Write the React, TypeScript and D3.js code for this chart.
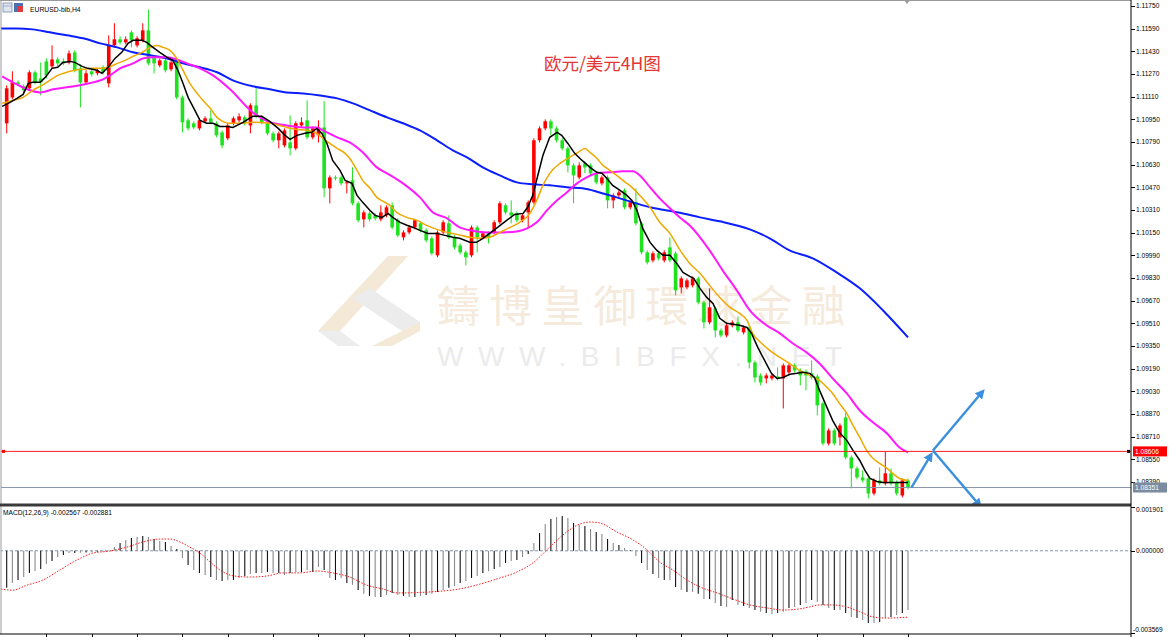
import React from "react";
import * as d3 from "d3";

// EURUSD H4 candles, oldest first
const opens = [
  1.10922, 1.11105, 1.11211, 1.11183, 1.11169, 1.11282, 1.11239, 1.11359, 1.11324, 1.11373,
  1.11359, 1.11352, 1.11423, 1.11310, 1.11211, 1.11289, 1.11275, 1.11317, 1.11204, 1.11472,
  1.11515, 1.11493, 1.11564, 1.11472, 1.11508, 1.11578, 1.11388, 1.11331, 1.11366, 1.11303,
  1.11366, 1.11105, 1.10943, 1.10922, 1.10886, 1.10936, 1.10957, 1.10922, 1.10858, 1.10816,
  1.10922, 1.10943, 1.10964, 1.10907, 1.11049, 1.10964, 1.10922, 1.10851, 1.10802, 1.10766,
  1.10787, 1.10745, 1.10907, 1.10943, 1.10823, 1.10837, 1.10893, 1.10463, 1.10540, 1.10540,
  1.10498, 1.10519, 1.10357, 1.10244, 1.10286, 1.10272, 1.10244, 1.10272, 1.10343, 1.10237,
  1.10117, 1.10152, 1.10187, 1.10216, 1.10166, 1.10110, 1.09990, 1.10152, 1.10216, 1.10117,
  1.10060, 1.10011, 1.09990, 1.10187, 1.10117, 1.10145, 1.10152, 1.10223, 1.10343, 1.10293,
  1.10286, 1.10237, 1.10293, 1.10364, 1.10802, 1.10886, 1.10936, 1.10886, 1.10802, 1.10745,
  1.10625, 1.10540, 1.10639, 1.10625, 1.10569, 1.10498, 1.10540, 1.10378, 1.10413, 1.10449,
  1.10329, 1.10364, 1.10216, 1.10011, 1.09954, 1.10004, 1.09954, 1.10046, 1.10004, 1.09764,
  1.09764, 1.09778, 1.09827, 1.09658, 1.09517, 1.09616, 1.09460, 1.09425, 1.09495, 1.09517,
  1.09446, 1.09481, 1.09234, 1.09142, 1.09121, 1.09121, 1.09135, 1.09121, 1.09164, 1.09213,
  1.09178, 1.09171, 1.09157, 1.09135, 1.08945, 1.08662, 1.08754, 1.08705, 1.08846, 1.08564,
  1.08486, 1.08422, 1.08415, 1.08309, 1.08401, 1.08380, 1.08451, 1.08387, 1.08295, 1.08401,
];
const highs = [
  1.11190, 1.11289, 1.11225, 1.11197, 1.11296, 1.11296, 1.11352, 1.11380, 1.11472, 1.11388,
  1.11380, 1.11437, 1.11437, 1.11338, 1.11296, 1.11303, 1.11310, 1.11331, 1.11543, 1.11628,
  1.11536, 1.11536, 1.11578, 1.11536, 1.11628, 1.11726, 1.11402, 1.11380, 1.11380, 1.11366,
  1.11380, 1.11119, 1.10957, 1.10936, 1.10957, 1.10971, 1.11013, 1.10936, 1.10872, 1.10922,
  1.10971, 1.10992, 1.10978, 1.11063, 1.11169, 1.10978, 1.10936, 1.10865, 1.10865, 1.10886,
  1.10978, 1.10936, 1.10964, 1.11084, 1.10900, 1.10943, 1.11077, 1.10554, 1.10554, 1.10554,
  1.10519, 1.10611, 1.10371, 1.10307, 1.10300, 1.10286, 1.10343, 1.10343, 1.10364, 1.10251,
  1.10166, 1.10201, 1.10244, 1.10230, 1.10180, 1.10124, 1.10166, 1.10237, 1.10272, 1.10131,
  1.10074, 1.10025, 1.10201, 1.10201, 1.10159, 1.10159, 1.10237, 1.10371, 1.10357, 1.10378,
  1.10300, 1.10286, 1.10378, 1.10816, 1.10900, 1.10950, 1.10950, 1.10900, 1.10816, 1.10759,
  1.10639, 1.10646, 1.10653, 1.10639, 1.10583, 1.10554, 1.10554, 1.10427, 1.10449, 1.10463,
  1.10378, 1.10463, 1.10230, 1.10025, 1.10018, 1.10018, 1.10025, 1.10117, 1.10018, 1.09841,
  1.09827, 1.09841, 1.09841, 1.09672, 1.09757, 1.09630, 1.09474, 1.09510, 1.09531, 1.09559,
  1.09495, 1.09495, 1.09248, 1.09157, 1.09157, 1.09157, 1.09199, 1.09227, 1.09227, 1.09227,
  1.09192, 1.09185, 1.09248, 1.09150, 1.08959, 1.08768, 1.08768, 1.08804, 1.08881, 1.08578,
  1.08500, 1.08472, 1.08429, 1.08415, 1.08493, 1.08606, 1.08486, 1.08401, 1.08415, 1.08415,
];
const lows = [
  1.10851, 1.11091, 1.11183, 1.11140, 1.11155, 1.11197, 1.11119, 1.11239, 1.11310, 1.11324,
  1.11331, 1.11338, 1.11282, 1.11035, 1.11197, 1.11253, 1.11260, 1.11268, 1.11176, 1.11458,
  1.11479, 1.11479, 1.11458, 1.11458, 1.11493, 1.11331, 1.11275, 1.11317, 1.11282, 1.11289,
  1.11091, 1.10858, 1.10872, 1.10879, 1.10872, 1.10922, 1.10915, 1.10823, 1.10745, 1.10802,
  1.10907, 1.10929, 1.10907, 1.10851, 1.10957, 1.10915, 1.10837, 1.10787, 1.10745, 1.10752,
  1.10696, 1.10731, 1.10893, 1.10809, 1.10809, 1.10787, 1.10399, 1.10357, 1.10519, 1.10484,
  1.10427, 1.10343, 1.10223, 1.10187, 1.10230, 1.10237, 1.10230, 1.10258, 1.10173, 1.10117,
  1.10096, 1.10138, 1.10173, 1.10152, 1.10081, 1.09990, 1.09976, 1.10138, 1.10103, 1.10032,
  1.09997, 1.09919, 1.09976, 1.10011, 1.10103, 1.10074, 1.10138, 1.10209, 1.10279, 1.10216,
  1.10223, 1.10223, 1.10180, 1.10350, 1.10787, 1.10872, 1.10837, 1.10787, 1.10731, 1.10576,
  1.10357, 1.10526, 1.10569, 1.10554, 1.10491, 1.10484, 1.10322, 1.10322, 1.10399, 1.10314,
  1.10314, 1.10201, 1.09997, 1.09926, 1.09940, 1.09954, 1.09940, 1.09940, 1.09707, 1.09721,
  1.09750, 1.09764, 1.09644, 1.09474, 1.09503, 1.09411, 1.09411, 1.09411, 1.09481, 1.09446,
  1.09432, 1.09192, 1.09093, 1.09072, 1.09086, 1.09107, 1.09107, 1.08909, 1.09150, 1.09164,
  1.09072, 1.09037, 1.09114, 1.08860, 1.08648, 1.08648, 1.08648, 1.08648, 1.08550, 1.08345,
  1.08408, 1.08387, 1.08274, 1.08295, 1.08366, 1.08366, 1.08366, 1.08295, 1.08281, 1.08338,
];
const closes = [
  1.11169, 1.11211, 1.11197, 1.11155, 1.11282, 1.11211, 1.11211, 1.11260, 1.11373, 1.11345,
  1.11345, 1.11416, 1.11296, 1.11211, 1.11275, 1.11268, 1.11296, 1.11282, 1.11472, 1.11515,
  1.11493, 1.11515, 1.11508, 1.11522, 1.11578, 1.11345, 1.11345, 1.11366, 1.11296, 1.11352,
  1.11105, 1.10929, 1.10886, 1.10893, 1.10943, 1.10957, 1.10929, 1.10837, 1.10766, 1.10907,
  1.10957, 1.10971, 1.10922, 1.11049, 1.10971, 1.10929, 1.10851, 1.10802, 1.10851, 1.10872,
  1.10745, 1.10922, 1.10929, 1.10823, 1.10886, 1.10893, 1.10463, 1.10540, 1.10533, 1.10498,
  1.10505, 1.10357, 1.10237, 1.10293, 1.10244, 1.10251, 1.10293, 1.10329, 1.10187, 1.10131,
  1.10152, 1.10187, 1.10237, 1.10166, 1.10096, 1.10004, 1.10152, 1.10223, 1.10117, 1.10046,
  1.10011, 1.09976, 1.10187, 1.10117, 1.10145, 1.10117, 1.10223, 1.10357, 1.10293, 1.10272,
  1.10237, 1.10272, 1.10364, 1.10802, 1.10886, 1.10936, 1.10886, 1.10802, 1.10745, 1.10625,
  1.10554, 1.10625, 1.10611, 1.10569, 1.10505, 1.10540, 1.10378, 1.10413, 1.10434, 1.10329,
  1.10364, 1.10216, 1.10011, 1.09940, 1.10004, 1.09969, 1.10011, 1.09954, 1.09743, 1.09827,
  1.09813, 1.09827, 1.09658, 1.09517, 1.09623, 1.09460, 1.09425, 1.09495, 1.09517, 1.09460,
  1.09481, 1.09234, 1.09128, 1.09093, 1.09142, 1.09142, 1.09121, 1.09213, 1.09213, 1.09178,
  1.09142, 1.09142, 1.09128, 1.08931, 1.08662, 1.08754, 1.08662, 1.08789, 1.08564, 1.08486,
  1.08422, 1.08401, 1.08309, 1.08401, 1.08380, 1.08451, 1.08380, 1.08309, 1.08401, 1.08351,
];

// moving averages: [bar index, price]
const maBlack: [number, number][] = [
  [-0.8, 1.11042], [0.6, 1.1107], [1.8, 1.11098], [2.9, 1.11126], [3.8, 1.11204], [4.6, 1.11211],
  [5.9, 1.11211], [6.8, 1.11246], [8, 1.1131], [9, 1.11317], [9.9, 1.11352], [11.2, 1.11359],
  [12, 1.11352], [13.3, 1.11324], [14.3, 1.1131], [15.9, 1.11296], [16.8, 1.11275], [17.9, 1.11317],
  [19.1, 1.1138], [20.3, 1.11423], [21.4, 1.11486], [22.3, 1.11508], [23.9, 1.11508], [24.7, 1.11493],
  [25.8, 1.11458], [27, 1.11423], [28.3, 1.11388], [29.3, 1.11366], [30.2, 1.11296], [31.1, 1.11204],
  [32, 1.11105], [33.2, 1.11013], [34.1, 1.10943], [35.3, 1.10922], [36.4, 1.10922], [37.6, 1.109],
  [38.9, 1.109], [39.9, 1.10893], [41.7, 1.10929], [43.4, 1.10971], [45, 1.10971], [46.4, 1.10936],
  [47.9, 1.10886], [49.1, 1.10837], [50, 1.10809], [51.2, 1.10837], [52.6, 1.10851], [53.8, 1.10858],
  [54.7, 1.10886], [55.6, 1.10851], [56.5, 1.1078], [57.5, 1.1066], [58.8, 1.1059], [59.7, 1.10519],
  [60.9, 1.10498], [61.8, 1.10413], [62.8, 1.10364], [64.1, 1.10307], [65, 1.10272], [66.2, 1.10258],
  [67.3, 1.10286], [68.1, 1.10258], [69.4, 1.10223], [70.6, 1.10202], [71.7, 1.10187], [72.9, 1.10166],
  [74.3, 1.10145], [75.9, 1.10145], [77.3, 1.10131], [78.7, 1.10117], [79.9, 1.1011], [81.7, 1.10082],
  [82.9, 1.10082], [84, 1.1011], [85.2, 1.10145], [86.6, 1.10187], [88.2, 1.10237], [89.6, 1.10279],
  [91.1, 1.10286], [91.9, 1.10329], [92.8, 1.10413], [93.7, 1.10555], [94.6, 1.10696], [95.8, 1.10823],
  [97.1, 1.10858], [97.9, 1.10837], [99, 1.1078], [100.2, 1.1071], [101.5, 1.1066], [102.9, 1.10611],
  [104.1, 1.10576], [105, 1.10569], [105.9, 1.10533], [106.9, 1.10484], [108.2, 1.10449], [109.4, 1.10413],
  [110.3, 1.10378], [111.2, 1.10307], [112.2, 1.1018], [113.5, 1.10081], [114.7, 1.10025], [115.8, 1.0999],
  [117, 1.0999], [118.2, 1.09933], [119.3, 1.0987], [120.5, 1.09841], [121.2, 1.09827], [122.3, 1.09757],
  [123.5, 1.09693], [124.6, 1.09651], [125.8, 1.09545], [127, 1.0951], [128.1, 1.09503], [129.3, 1.09496],
  [130.6, 1.09481], [131.4, 1.09439], [132.5, 1.0934], [133.7, 1.09248], [134.9, 1.09157], [135.9, 1.09121],
  [136.9, 1.09128], [138.2, 1.0915], [139.4, 1.09157], [140.4, 1.09164], [141.7, 1.09157], [142.5, 1.09128],
  [143.4, 1.09037], [144.7, 1.08917], [145.7, 1.08825], [146.9, 1.0874], [148.2, 1.08684], [149.3, 1.08613],
  [150.5, 1.08542], [151.4, 1.08472], [152.3, 1.08415], [153.5, 1.08394], [154.6, 1.08387], [156.3, 1.08387],
  [159, 1.08387],
];
const maOrange: [number, number][] = [
  [-0.8, 1.11063], [1.1, 1.11084], [2.9, 1.11105], [4.6, 1.11155], [6.2, 1.1119], [7.6, 1.11225],
  [9, 1.1126], [10.6, 1.11282], [12, 1.11296], [13.5, 1.11303], [15, 1.1131], [16.5, 1.1131],
  [17.9, 1.11317], [19.5, 1.11345], [20.9, 1.11366], [22.3, 1.11395], [23.9, 1.11423], [25.3, 1.11458],
  [26.5, 1.11472], [27.6, 1.11458], [28.8, 1.11437], [30, 1.1138], [31.1, 1.11296], [32.3, 1.11204],
  [33.6, 1.11133], [34.6, 1.11084], [35.9, 1.11028], [37.1, 1.10964], [38.1, 1.10936], [39.4, 1.10922],
  [41.1, 1.10922], [43.4, 1.10929], [46.4, 1.10922], [48.2, 1.10907], [49.4, 1.10893], [51.2, 1.10879],
  [53, 1.10872], [54.7, 1.10851], [55.8, 1.10816], [57, 1.1078], [58.3, 1.10745], [59.7, 1.1071],
  [60.5, 1.10675], [61.8, 1.1059], [62.8, 1.10519], [64.1, 1.10463], [65.3, 1.10399], [66.4, 1.10371],
  [67.6, 1.10343], [68.8, 1.10293], [70.6, 1.10258], [72.4, 1.10237], [74.1, 1.10201], [75.9, 1.10173],
  [77.7, 1.10152], [79.4, 1.10138], [81.7, 1.10117], [83.5, 1.1011], [85.2, 1.10117], [87, 1.10152],
  [88.8, 1.10187], [90.5, 1.10223], [92.3, 1.10286], [93.5, 1.10378], [94.6, 1.10484], [95.8, 1.10569],
  [97.6, 1.10639], [99.3, 1.10682], [100.8, 1.10717], [102, 1.10745], [102.9, 1.10717], [104.1, 1.10675],
  [105.2, 1.10625], [106.4, 1.1059], [107.6, 1.10554], [108.7, 1.10519], [110.3, 1.1047], [111.7, 1.10413],
  [113.5, 1.10329], [115.2, 1.10223], [117, 1.10145], [118.7, 1.10032], [120.5, 1.09933], [122.3, 1.09863],
  [124, 1.09778], [125.8, 1.09693], [127.6, 1.09623], [129.3, 1.0958], [130.6, 1.09531], [131.6, 1.09439],
  [133.2, 1.09368], [134.6, 1.09319], [136.4, 1.0927], [138.1, 1.09227], [139.9, 1.09178], [141.3, 1.0915],
  [142.5, 1.09128], [143.4, 1.09107], [144.7, 1.09058], [145.7, 1.09015], [146.9, 1.08945], [148.2, 1.08874],
  [149.3, 1.08789], [150.5, 1.08705], [151.7, 1.08613], [152.8, 1.08557], [154, 1.08521], [155.3, 1.08486],
  [156.3, 1.08451], [157.5, 1.08415], [159, 1.08401],
];
const maMagenta: [number, number][] = [
  [-0.8, 1.11253], [1.1, 1.11211], [3.6, 1.11162], [5.9, 1.1114], [8.2, 1.11162], [10.6, 1.11176],
  [12.9, 1.1119], [15.2, 1.11211], [17, 1.11232], [18.2, 1.1126], [20, 1.1131], [22.3, 1.11345],
  [24, 1.1138], [25.8, 1.11388], [28.3, 1.11388], [30, 1.11373], [31.8, 1.11345], [34.1, 1.1131],
  [36.4, 1.1126], [39.4, 1.11162], [43.4, 1.10999], [46.4, 1.10929], [49.4, 1.10907], [52.3, 1.10893],
  [54.7, 1.10893], [55.8, 1.10872], [58.3, 1.10823], [60.5, 1.10787], [62.8, 1.10717], [65.3, 1.10611],
  [67.1, 1.10569], [69.9, 1.10498], [72.9, 1.10399], [75.2, 1.10293], [77.7, 1.10251], [79.9, 1.10187],
  [82.9, 1.10159], [85.2, 1.10152], [87.5, 1.10152], [90, 1.10159], [91.8, 1.1018], [93.5, 1.10223],
  [95.3, 1.10307], [97.1, 1.10378], [98.8, 1.10434], [100.6, 1.10498], [102.3, 1.1054], [104.1, 1.10569],
  [106.4, 1.10576], [108.7, 1.10583], [110.5, 1.10583], [111.7, 1.10554], [113.5, 1.1047], [115.2, 1.10392],
  [117, 1.10322], [118.7, 1.10258], [120.5, 1.10201], [124, 1.10025], [126.3, 1.09884], [128.8, 1.09743],
  [131.1, 1.09601], [134.1, 1.09495], [136.4, 1.09439], [138.7, 1.09368], [141.1, 1.09305], [143.4, 1.09227],
  [145.7, 1.09121], [148.2, 1.09015], [150.5, 1.08895], [152.8, 1.08811], [155.3, 1.08733], [157.5, 1.08634],
  [159, 1.08599],
];
const maBlue: [number, number][] = [
  [-1.2, 1.11592], [1.8, 1.11592], [4.6, 1.11585], [7.6, 1.11564], [10.6, 1.11543], [13.5, 1.11522],
  [16.5, 1.11486], [19.5, 1.11458], [22.3, 1.11423], [25.3, 1.11402], [28.3, 1.1138], [31.1, 1.11345],
  [34.1, 1.11317], [37.1, 1.11282], [39.9, 1.11225], [43.4, 1.11183], [46.4, 1.11162], [49.4, 1.1114],
  [52.3, 1.11133], [55.3, 1.11119], [58.3, 1.11098], [61.1, 1.11063], [64.1, 1.11013], [67.1, 1.10964],
  [69.9, 1.10922], [72.9, 1.10872], [75.9, 1.10802], [78.7, 1.10731], [81.2, 1.10682], [84, 1.10611],
  [87, 1.10554], [90, 1.10505], [92.8, 1.10491], [95.8, 1.10484], [98.8, 1.1047], [101.6, 1.10463],
  [104.6, 1.10434], [107.6, 1.10399], [110.5, 1.10364], [113.5, 1.10329], [116.5, 1.10307], [119.3, 1.10286],
  [122.3, 1.10258], [125.8, 1.1023], [131.1, 1.10173], [134.6, 1.1011], [138.1, 1.10025], [142.2, 1.09969],
  [146.4, 1.0987], [150.5, 1.09757], [154.6, 1.09601], [159, 1.09411],
];

// MACD(12,26,9): main values per bar and signal line points
const macdMain = [
  -0.00161, -0.0014, -0.00127, -0.00114, -0.00096, -0.00088, -0.00079, -0.00057, -0.00044, -0.00027,
  -0.00018, -0.0001, -0.0001, -0.00009, -0.00007, -0.00006, -0.00004, -0.00003, 0.00001, 0.00016,
  0.00034, 0.00047, 0.00056, 0.0006, 0.00064, 0.0006, 0.00051, 0.00043, 0.00038, 0.00021,
  0.00008, -0.00031, -0.00062, -0.00083, -0.00096, -0.00105, -0.00114, -0.00127, -0.00131, -0.00127,
  -0.00127, -0.00118, -0.00109, -0.00101, -0.00096, -0.00096, -0.00092, -0.00096, -0.00096, -0.00105,
  -0.00096, -0.00092, -0.00092, -0.00083, -0.00092, -0.0007, -0.00083, -0.00118, -0.00127, -0.00118,
  -0.0014, -0.00148, -0.0017, -0.00187, -0.00196, -0.00201, -0.00201, -0.00192, -0.00183, -0.00192,
  -0.00196, -0.00201, -0.00201, -0.00196, -0.00192, -0.00187, -0.00179, -0.0017, -0.00161, -0.00153,
  -0.0014, -0.00131, -0.00118, -0.00109, -0.00096, -0.00088, -0.00079, -0.0007, -0.00053, -0.00044,
  -0.0004, -0.00027, -0.00014, 0.00034, 0.00077, 0.00116, 0.00138, 0.00147, 0.00151, 0.00142,
  0.00121, 0.00112, 0.00108, 0.00095, 0.00082, 0.00073, 0.00051, 0.00034, 0.00025, 0.00012,
  0.00003, -0.00023, -0.00053, -0.00083, -0.00101, -0.00118, -0.00127, -0.00127, -0.00157, -0.0017,
  -0.00179, -0.00179, -0.00187, -0.00209, -0.00209, -0.00227, -0.0024, -0.00244, -0.00214, -0.00235,
  -0.0024, -0.00248, -0.00257, -0.00265, -0.0027, -0.00274, -0.0027, -0.00265, -0.00248, -0.00244,
  -0.00235, -0.00227, -0.00214, -0.00222, -0.00235, -0.00248, -0.00257, -0.00257, -0.0027, -0.00287,
  -0.00292, -0.003, -0.00313, -0.00313, -0.00309, -0.00292, -0.00287, -0.00279, -0.0027, -0.00257,
];
const macdSignal: [number, number][] = [
  [-1, -0.00166], [1, -0.00171], [3.6, -0.00149], [6.4, -0.00127], [9.4, -0.00083], [12.4, -0.0004],
  [15.2, -0.0001], [18.2, -0.00001], [21.2, 0.00016], [24, 0.00038], [27, 0.00051], [28.8, 0.00051],
  [30.6, 0.00038], [32.3, 0.00016], [34.1, -0.0001], [35.9, -0.00049], [37.6, -0.00083], [40, -0.00109],
  [43, -0.00114], [46, -0.00109], [48.7, -0.00096], [51.7, -0.00096], [54.7, -0.00088], [57.5, -0.00096],
  [60.5, -0.00114], [63.5, -0.00149], [66.4, -0.00166], [69, -0.00183], [78, -0.00172], [87, -0.00118],
  [90, -0.00092], [92.8, -0.00053], [95.8, 0.00016], [98.8, 0.00082], [101.1, 0.00116], [102.9, 0.00125],
  [104.6, 0.00121], [107.6, 0.00082], [110.5, 0.00047], [113, 0.00003], [115.2, -0.00049], [117.5, -0.00083],
  [120, -0.00127], [122.3, -0.00157], [125.3, -0.00183], [128.1, -0.00209], [131.1, -0.00235], [134.1, -0.00248],
  [137, -0.00257], [139.9, -0.00252], [141.6, -0.00244], [143.4, -0.00235], [145.7, -0.00235], [148.2, -0.00244],
  [150.5, -0.00265], [152.8, -0.00287], [155.3, -0.00292], [159, -0.00288],
];

const priceTicks = [
  1.1175, 1.1159, 1.1143, 1.1127, 1.1111, 1.1095, 1.1079, 1.1063, 1.1047, 1.1031, 1.1015,
  1.0999, 1.0983, 1.0967, 1.0951, 1.0935, 1.0919, 1.0903, 1.0887, 1.0871, 1.0855, 1.0839,
];
const macdTicks = [0.001901, 0, -0.003569];
const timeTickBars = [7, 15, 23, 31, 39, 47, 55, 63, 71, 79, 87, 95, 103, 111, 119, 127, 135, 143, 151, 159];

const redLevel = 1.08606;
const lastPrice = 1.08351;

// hand-drawn arrows: [bar index, price] from -> to
const arrows: [[number, number], [number, number]][] = [
  [[159.6, 1.08351], [163.1, 1.08585]],
  [[163.4, 1.08613], [172.2, 1.0903]],
  [[163.4, 1.08613], [171.7, 1.08222]],
];

const W = 1170;
const H = 637;
const AXIS_X = 1131;
const SEP_Y = 505;
const FONT = "'Liberation Sans', Arial, sans-serif";
const BULL = "#ff0000";
const BEAR = "#1ee21e";
const ARROW = "#3a8fdf";

export default function App() {
  const x = d3.scaleLinear().domain([0, 159]).range([6.7, 908]);
  const y = d3.scaleLinear().domain([1.0839, 1.1175]).range([482, 6]);
  const ym = d3.scaleLinear().domain([-0.003569, 0.001901]).range([633, 507]);

  const maLine = d3.line<[number, number]>().x(d => x(d[0])).y(d => y(d[1]));
  const smooth = d3.line<[number, number]>().x(d => x(d[0])).y(d => y(d[1])).curve(d3.curveMonotoneX);
  const sigLine = d3.line<[number, number]>().x(d => x(d[0])).y(d => ym(d[1])).curve(d3.curveMonotoneX);

  const bodyW = 3.6;

  return (
    <div>
      <style>{`body{margin:0;background:#fff}`}</style>
      <svg width={W} height={H} style={{ display: "block" }} fontFamily={FONT}>
        <defs>
          <clipPath id="mainClip">
            <rect x={1} y={1} width={AXIS_X - 1} height={SEP_Y - 2} />
          </clipPath>
          <clipPath id="macdClip">
            <rect x={1} y={507} width={AXIS_X - 1} height={127} />
          </clipPath>
          <marker id="head" viewBox="0 0 10 10" refX={7} refY={5} markerWidth={4} markerHeight={4} orient="auto">
            <path d="M0,0 L10,5 L0,10 z" fill={ARROW} />
          </marker>
        </defs>
        <rect width={W} height={H} fill="#fff" />

        {/* watermark */}
        <g>
          <polygon points="388,256 408,256 340,331 318,331" fill="#f4e8d6" />
          <polygon points="318,331 340,331 360,346 338,346" fill="#ededed" />
          <polygon points="352,298 370,288 420,322 402,331" fill="#ececec" />
          <polygon points="402,331 420,322 420,331 392,346 372,346" fill="#f4e8d6" />
          <text x={437} y={322} fontSize={43} fill="#f5eadc" textLength={408} lengthAdjust="spacing"
            fontFamily="'Noto Sans CJK TC', 'Noto Sans CJK SC', sans-serif">鑄博皇御環球金融</text>
          <text x={437} y={366} fontSize={28} fill="#ebebeb" textLength={405} lengthAdjust="spacing">WWW.BIBFX.NET</text>
        </g>

        {/* title */}
        <rect x={3} y={3} width={9} height={9} fill="#dfe6f2" stroke="#7a8aa8" strokeWidth={0.8} />
        <line x1={3} y1={6} x2={12} y2={6} stroke="#7a8aa8" strokeWidth={0.6} />
        <rect x={14} y={3} width={9} height={9} fill="#4d6fb3" />
        <rect x={18} y={6} width={5} height={6} fill="#e03a3a" />
        <text x={30} y={11.5} fontSize={6.8} fill="#000">EURUSD-bib,H4</text>
        <polygon points="904,0 910,0 907,4" fill="#9a9a9a" />

        <text x={544} y={70} fontSize={17.5} fill="#e53535"
          fontFamily="'Noto Sans CJK SC', sans-serif">欧元/美元4H图</text>

        {/* main panel */}
        <g clipPath="url(#mainClip)">
          {closes.map((c, i) => {
            const o = opens[i];
            const up = c >= o;
            const col = up ? BULL : BEAR;
            const top = y(Math.max(o, c));
            const bot = y(Math.min(o, c));
            return (
              <g key={i}>
                <line x1={x(i)} x2={x(i)} y1={y(highs[i])} y2={y(lows[i])} stroke={col} strokeWidth={1} />
                <rect x={x(i) - bodyW / 2} y={top} width={bodyW} height={Math.max(1, bot - top)} fill={col} />
              </g>
            );
          })}
          <path d={smooth(maBlue) || ""} fill="none" stroke="#0a1eff" strokeWidth={2} />
          <path d={smooth(maMagenta) || ""} fill="none" stroke="#ff19ff" strokeWidth={2} />
          <path d={smooth(maOrange) || ""} fill="none" stroke="#f0a800" strokeWidth={1.5} />
          <path d={maLine(maBlack) || ""} fill="none" stroke="#000" strokeWidth={1.5} />

          <line x1={0} x2={AXIS_X} y1={y(redLevel)} y2={y(redLevel)} stroke="#ff2020" strokeWidth={1} />
          <rect x={2} y={y(redLevel) - 1.5} width={3} height={3} fill="#ff0000" />
          <rect x={AXIS_X - 4} y={y(redLevel) - 1.5} width={3} height={3} fill="#000" />
          <line x1={0} x2={AXIS_X} y1={y(lastPrice)} y2={y(lastPrice)} stroke="#8797a8" strokeWidth={1} />

          {arrows.map(([a, b], k) => (
            <line key={k} x1={x(a[0])} y1={y(a[1])} x2={x(b[0])} y2={y(b[1])}
              stroke={ARROW} strokeWidth={2.4} markerEnd="url(#head)" />
          ))}
        </g>

        {/* MACD panel */}
        <g clipPath="url(#macdClip)">
          <line x1={0} x2={AXIS_X} y1={ym(0)} y2={ym(0)} stroke="#8796a6" strokeWidth={1} strokeDasharray="3,2" />
          {macdMain.map((v, i) => (
            <line key={i} x1={x(i)} x2={x(i)} y1={ym(0)} y2={ym(v)}
              stroke={i % 2 ? "#8a8a8a" : "#111"} strokeWidth={1.1} />
          ))}
          <path d={sigLine(macdSignal) || ""} fill="none" stroke="#ff1a1a" strokeWidth={1} strokeDasharray="1.5,1.5" />
        </g>
        <text x={3} y={515} fontSize={6.6} fill="#000">MACD(12,26,9) -0.002567 -0.002881</text>

        {/* frame, separators, axes */}
        <line x1={1} x2={1} y1={0} y2={634} stroke="#9a9a9a" />
        <line x1={0} x2={AXIS_X} y1={0.5} y2={0.5} stroke="#9a9a9a" />
        <line x1={0} x2={AXIS_X} y1={SEP_Y} y2={SEP_Y} stroke="#3a3a3a" strokeWidth={3} />
        <line x1={0} x2={AXIS_X} y1={634} y2={634} stroke="#000" />
        <line x1={AXIS_X} x2={AXIS_X} y1={0} y2={H} stroke="#000" />
        {timeTickBars.map(b => (
          <line key={b} x1={Math.round(x(b)) + 0.5} x2={Math.round(x(b)) + 0.5} y1={634} y2={H} stroke="#000" />
        ))}

        {priceTicks.map(p => (
          <g key={p}>
            <line x1={AXIS_X} x2={AXIS_X + 4} y1={Math.round(y(p)) + 0.5} y2={Math.round(y(p)) + 0.5} stroke="#000" />
            <text x={AXIS_X + 5} y={y(p)} dy="0.35em" fontSize={6.6} fill="#000">{p.toFixed(5)}</text>
          </g>
        ))}
        {macdTicks.map((v, k) => {
          const ty = Math.min(630, Math.max(510, ym(v)));
          return (
            <g key={v}>
              <line x1={AXIS_X} x2={AXIS_X + 4} y1={Math.round(ym(v)) + 0.5} y2={Math.round(ym(v)) + 0.5} stroke="#000" />
              <text x={v < 0 ? AXIS_X + 2 : AXIS_X + 5} y={ty} dy="0.35em" fontSize={6.6} fill="#000">
                {k === 1 ? "0.000000" : v.toFixed(6)}
              </text>
            </g>
          );
        })}

        <rect x={AXIS_X + 2} y={y(redLevel) - 5} width={34} height={10} fill="#ff0000" />
        <text x={AXIS_X + 4} y={y(redLevel)} dy="0.35em" fontSize={6.6} fill="#fff">{redLevel.toFixed(5)}</text>
        <rect x={AXIS_X + 2} y={y(lastPrice) - 5} width={34} height={10} fill="#7b8c9e" />
        <text x={AXIS_X + 4} y={y(lastPrice)} dy="0.35em" fontSize={6.6} fill="#fff">{lastPrice.toFixed(5)}</text>
      </svg>
    </div>
  );
}
